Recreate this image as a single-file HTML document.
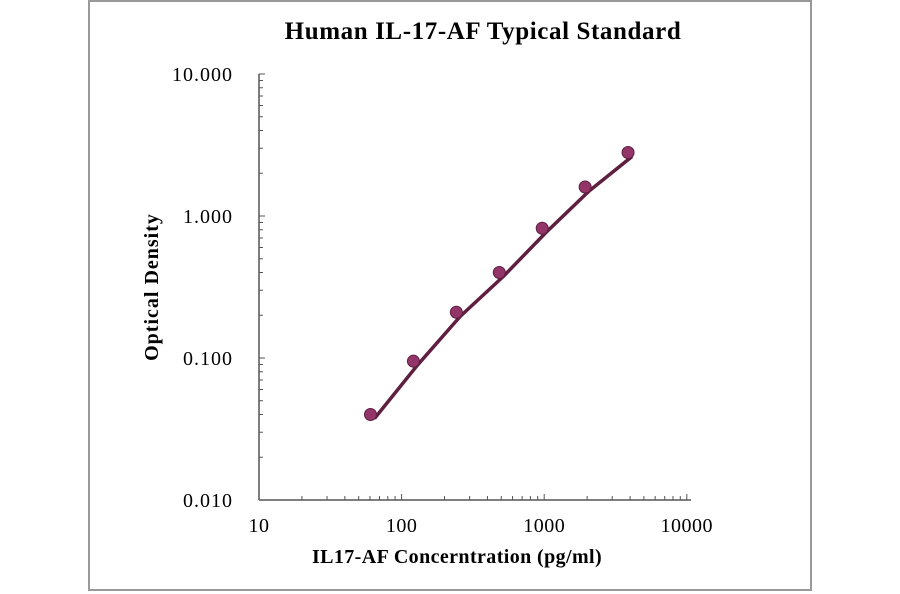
<!DOCTYPE html>
<html><head><meta charset="utf-8"><style>
body{margin:0;background:#fff}
svg{display:block;font-family:"Liberation Serif",serif}
</style></head><body>
<svg width="900" height="594" viewBox="0 0 900 594">
<rect x="89" y="1" width="722" height="589" fill="#fff" stroke="#999" stroke-width="2"/>
<text x="483" y="39" font-size="25" font-weight="bold" letter-spacing="0.6" text-anchor="middle">Human IL-17-AF Typical Standard</text>
<text transform="translate(158,287) rotate(-90)" font-size="20" font-weight="bold" letter-spacing="1" text-anchor="middle">Optical Density</text>
<text x="457" y="563" font-size="20" font-weight="bold" letter-spacing="0.4" text-anchor="middle">IL17-AF Concerntration (pg/ml)</text>
<g id="axes"></g>
<g id="marks"></g>
</svg>
<script>
const xTicks=[10,100,1000,10000];
const xTickLabels=["10","100","1000","10000"];
const yTicks=[0.01,0.1,1,10];
const yTickLabels=["0.010","0.100","1.000","10.000"];
const conc=[62.5,125,250,500,1000,2000,4000];
const od=[0.040,0.095,0.21,0.40,0.82,1.6,2.8];
const NS="http://www.w3.org/2000/svg";
function sx(v){return 259+(Math.log10(v)-1)*142.6;}
function sy(v){return 500-(Math.log10(v)+2)*142;}
function mk(t,a,p){const e=document.createElementNS(NS,t);for(const k in a)e.setAttribute(k,a[k]);p.appendChild(e);return e;}
const ax=document.getElementById('axes'),mg=document.getElementById('marks');
let l=mk('line',{x1:259,y1:sy(10),x2:259,y2:500,stroke:'#555','stroke-width':1.5},ax);


l=mk('line',{x1:259,y1:500,x2:691,y2:500,stroke:'#555','stroke-width':1.5},ax);


for(let d=0.01;d<9;d*=10){for(let m=1;m<=10;m++){const y=sy(d*m);const t=mk('line',{x1:259,y1:y,x2:m===1||m===10?265:263,y2:y,stroke:'#555'},ax);

}}
for(let d=10;d<9000;d*=10){for(let m=2;m<=10;m++){const x=sx(d*m);const t=mk('line',{x1:x,y1:500,x2:x,y2:m===10?494:496,stroke:'#555'},ax);

}}
yTicks.forEach((v,i)=>{const t=mk('text',{x:233,y:sy(v)+7,'font-size':20,'letter-spacing':1,'text-anchor':'end'},ax);t.textContent=yTickLabels[i];

});
xTicks.forEach((v,i)=>{const t=mk('text',{x:sx(v),y:532,'font-size':20,'letter-spacing':0.5,'text-anchor':'middle'},ax);t.textContent=xTickLabels[i];

});
const pts=conc.map((c,i)=>(sx(c)+2)+','+(sy(od[i])+4)).join(' ');
const fl=mk('polyline',{points:pts,fill:'none',stroke:'#5e1f40','stroke-width':3.5,'stroke-linejoin':'round'},mg);


conc.forEach((c,i)=>{const p=mk('circle',{cx:sx(c)-2,cy:sy(od[i]),r:6,fill:'#94356a',stroke:'#5e1f40','stroke-width':1},mg);

});
</script>
</body></html>
